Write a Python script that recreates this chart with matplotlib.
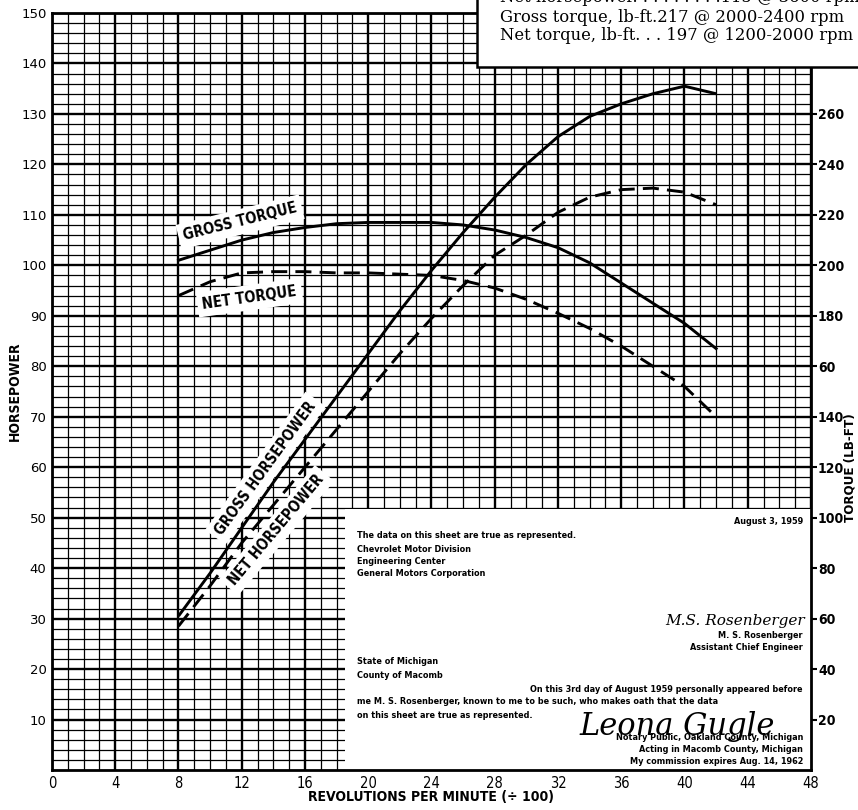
import matplotlib
matplotlib.use("Agg")
import matplotlib.pyplot as plt
from matplotlib.patches import Rectangle

# readings off the 1959 dyno sheet (rpm in hundreds)
rpm = [8, 10, 12, 14, 16, 18, 20, 22, 24, 26, 28, 30, 32, 34, 36, 38, 40, 42]
gross_hp = [30.5, 39, 48, 57, 65.5, 74, 82.5, 91, 99, 106.5, 113.5, 120, 125.5, 129.5, 132, 134, 135.5, 134]
net_hp = [28.5, 36.5, 45, 52.5, 60, 67.5, 75, 82.5, 89.5, 96, 102, 106, 110.5, 113.5, 115, 115.3, 114.5, 112]
gross_tq = [202, 206, 210, 213, 215, 216.5, 217, 217, 217, 216, 214, 211, 207, 201, 193, 185, 177, 167]
net_tq = [188, 193.5, 197, 197.5, 197.5, 197, 197, 196.5, 196, 194, 191, 186.5, 181, 175, 168, 160, 152, 140]

x_ticks = list(range(0, 49, 4))
hp_ticks = list(range(10, 151, 10))
tq_ticks = list(range(20, 261, 20))
tq_labels = ["20", "40", "60", "80", "100", "120", "140", "60", "180", "200", "220", "240", "260"]

spec_lines = [
    "Net horsepower. . . . . . . . .115 @ 3600 rpm",
    "Gross torque, lb-ft.217 @ 2000-2400 rpm",
    "Net torque, lb-ft. . . 197 @ 1200-2000 rpm",
]

NARROW = dict(family="DejaVu Sans", stretch="condensed")
W, H = 858, 810


def fx(px):
    return px / W


def fy(py):
    return 1 - py / H


fig = plt.figure(figsize=(8.58, 8.10), dpi=100)
ax = fig.add_axes([fx(52), fy(770), fx(811) - fx(52), fy(13) - fy(770)])
ax.set_xlim(0, 48)
ax.set_ylim(0, 150)

# graph paper
ax.set_xticks(x_ticks)
ax.set_xticks(range(0, 49), minor=True)
ax.set_yticks(hp_ticks)
ax.set_yticks(range(0, 151, 2), minor=True)
ax.grid(which="major", color="black", lw=1.7, zorder=0)
ax.grid(which="minor", color="black", lw=0.9, zorder=0)
ax.set_axisbelow(True)
ax.tick_params(which="both", length=0, pad=4)
for lab in ax.get_xticklabels():
    lab.set_stretch("condensed")
    lab.set_fontsize(10.5)
for lab in ax.get_yticklabels():
    lab.set_fontsize(9.5)
for s in ax.spines.values():
    s.set_linewidth(2)

ax.set_xlabel("REVOLUTIONS PER MINUTE (\u00f7 100)", fontsize=10, fontweight="bold", **NARROW)
ax.xaxis.set_label_coords(0.5, -0.026)
ax.set_ylabel("HORSEPOWER", fontsize=10, fontweight="bold", **NARROW)
ax.yaxis.set_label_coords(-0.0395, 0.5)

# horsepower curves
ax.plot(rpm, gross_hp, color="black", lw=2.1, zorder=4, solid_capstyle="butt")
ax.plot(rpm, net_hp, color="black", lw=2.1, dashes=(5.5, 2.8), zorder=4)

# torque on its own scale
ax2 = ax.twinx()
ax2.set_ylim(0, 300)
ax2.set_yticks(tq_ticks)
ax2.set_yticklabels(tq_labels, fontsize=10, fontweight="bold", **NARROW)
ax2.tick_params(length=4, width=1.5, pad=1)
for s in ax2.spines.values():
    s.set_visible(False)
ax2.plot(rpm, gross_tq, color="black", lw=2.1, zorder=4)
ax2.plot(rpm, net_tq, color="black", lw=2.1, dashes=(5.5, 2.8), zorder=4)
fig.text(fx(850), fy(468), "TORQUE (LB-FT)", rotation=90, ha="center", va="center",
         fontsize=9.5, fontweight="bold", **NARROW)

# curve labels on white patches
lbl = dict(fontsize=10.5, fontweight="bold", ha="center", va="center", zorder=3,
           bbox=dict(boxstyle="square,pad=0.35", fc="white", ec="none"), **NARROW)
ax.text(11.9, 108.6, "GROSS TORQUE", rotation=14, **lbl)
ax.text(12.5, 93.6, "NET TORQUE", rotation=8, **lbl)
ax.text(13.5, 59.8, "GROSS HORSEPOWER", rotation=54, **lbl)
ax.text(14.2, 47.5, "NET HORSEPOWER", rotation=50, **lbl)

# notary statement block
ax.add_patch(Rectangle((0.386, 0), 0.614, 0.345, transform=ax.transAxes,
                       fc="white", ec="none", zorder=2))
note = dict(fontsize=5.9, fontweight="bold", family="DejaVu Sans", zorder=6)
left_x, right_x = fx(357), fx(803)
fig.text(right_x, fy(522), "August 3, 1959", ha="right", va="center", **note)
for py, t in [(536, "The data on this sheet are true as represented."),
              (549, "Chevrolet Motor Division"),
              (561, "Engineering Center"),
              (574, "General Motors Corporation"),
              (662, "State of Michigan"),
              (675, "County of Macomb"),
              (702, "me M. S. Rosenberger, known to me to be such, who makes oath that the data"),
              (715, "on this sheet are true as represented.")]:
    fig.text(left_x, fy(py), t, ha="left", va="center", **note)
for py, t in [(636, "M. S. Rosenberger"),
              (648, "Assistant Chief Engineer"),
              (689, "On this 3rd day of August 1959 personally appeared before"),
              (738, "Notary Public, Oakland County, Michigan"),
              (750, "Acting in Macomb County, Michigan"),
              (762, "My commission expires Aug. 14, 1962")]:
    fig.text(right_x, fy(py), t, ha="right", va="center", **note)
fig.text(fx(805), fy(621), "M.S. Rosenberger", ha="right", va="center",
         family="DejaVu Serif", style="italic", fontsize=11, zorder=6)
fig.text(fx(775), fy(727), "Leona Gugle", ha="right", va="center",
         family="DejaVu Serif", style="italic", fontsize=22, zorder=6)

# spec box, top right
fig.add_artist(Rectangle((fx(477), fy(67)), 0.6, 0.2, transform=fig.transFigure,
                         fc="white", ec="black", lw=1.8, zorder=5))
for py, t in zip([-2, 17, 35], spec_lines):
    fig.text(fx(500), fy(py), t, ha="left", va="center", family="DejaVu Serif",
             fontsize=11.8, zorder=6)

plt.savefig("out.png", dpi=100)
plt.close()
